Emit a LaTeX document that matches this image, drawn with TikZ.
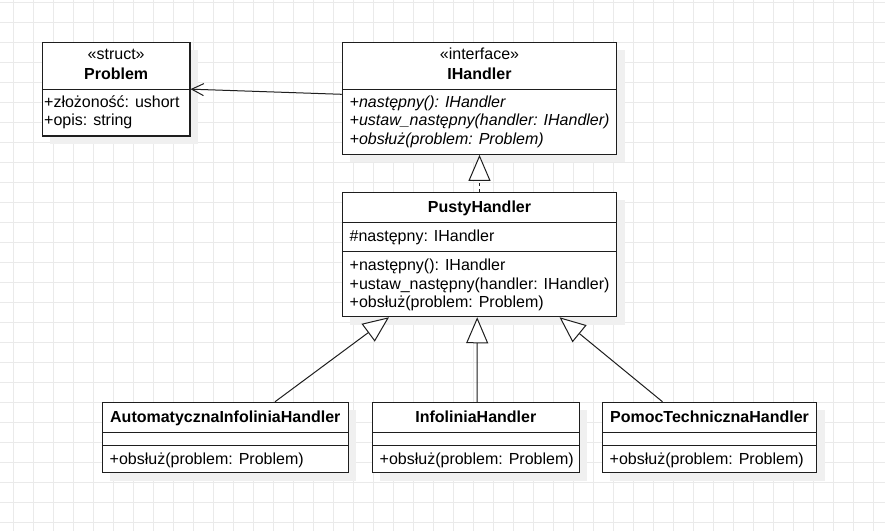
\documentclass[tikz,border=0pt]{standalone}
\usepackage{fontspec}
\setmainfont{Liberation Sans}
\usetikzlibrary{arrows.meta,calc,shadows}
\definecolor{gridc}{RGB}{234,234,234}
\definecolor{shadowc}{RGB}{240,240,240}
\definecolor{linec}{RGB}{30,30,30}
\begin{document}
\begin{tikzpicture}[x=1pt,y=-1pt,
  font=\fontsize{16}{18.5}\selectfont,
  gridline/.style={draw=gridc, line width=1pt},
  umlbox/.style={draw=linec, line width=1.1pt, fill=white, inner sep=0pt,
    drop shadow={shadow xshift=8pt, shadow yshift=-8pt, fill=shadowc, opacity=1}},
  sepline/.style={draw=linec, line width=1.1pt},
  mem/.style={anchor=base west, inner sep=0pt, text=black},
  memi/.style={mem, font=\fontsize{16}{18.5}\selectfont\itshape},
  ttl/.style={anchor=base, inner sep=0pt, text=black},
  ttlb/.style={ttl, font=\fontsize{16}{18.5}\selectfont\bfseries},
  assoc/.style={draw=linec, line width=1pt, -{Straight Barb[length=12pt,width=12pt,line width=1pt]}},
  realize/.style={draw=linec, line width=1pt, dash pattern=on 3pt off 3pt,
    -{Triangle[open, length=26pt, width=22pt, fill=white, line width=1pt]}},
  general/.style={draw=linec, line width=1pt,
    -{Triangle[open, length=26pt, width=22pt, fill=white, line width=1pt]}}
]
% background and grid
\fill[white] (0,0) rectangle (885,531);
\useasboundingbox (0,0) rectangle (885,531);
\foreach \x in {13,33,...,873} \draw[gridline] (\x,0) -- (\x,531);
\foreach \y in {2,22,...,522} \draw[gridline] (0,\y) -- (885,\y);

% boxes
\node[umlbox, minimum width=147.7pt, minimum height=93.7pt] (problem) at (116.15,89.15) {};
\node[umlbox, minimum width=274.4pt, minimum height=112pt] (ihandler) at (479.5,98.3) {};
\node[umlbox, minimum width=274.4pt, minimum height=124.4pt] (pusty) at (479.5,254.5) {};
\node[umlbox, minimum width=246pt, minimum height=70.4pt] (auto) at (225.3,437.5) {};
\node[umlbox, minimum width=207pt, minimum height=70.4pt] (infolinia) at (475.8,437.5) {};
\node[umlbox, minimum width=214.4pt, minimum height=70.4pt] (pomoc) at (709.5,437.5) {};

% separators
\draw[sepline] ($(problem.north west)+(0,48)$) -- ($(problem.north east)+(0,48)$);
\draw[sepline] ($(ihandler.north west)+(0,48)$) -- ($(ihandler.north east)+(0,48)$);
\draw[sepline] ($(pusty.north west)+(0,31)$) -- ($(pusty.north east)+(0,31)$);
\draw[sepline] ($(pusty.north west)+(0,59.4)$) -- ($(pusty.north east)+(0,59.4)$);
\draw[sepline] ($(auto.north west)+(0,31)$) -- ($(auto.north east)+(0,31)$);
\draw[sepline] ($(auto.north west)+(0,43.7)$) -- ($(auto.north east)+(0,43.7)$);
\draw[sepline] ($(infolinia.north west)+(0,31)$) -- ($(infolinia.north east)+(0,31)$);
\draw[sepline] ($(infolinia.north west)+(0,43.7)$) -- ($(infolinia.north east)+(0,43.7)$);
\draw[sepline] ($(pomoc.north west)+(0,31)$) -- ($(pomoc.north east)+(0,31)$);
\draw[sepline] ($(pomoc.north west)+(0,43.7)$) -- ($(pomoc.north east)+(0,43.7)$);

% Problem texts
\node[ttl] (pst) at (116.15,59.3) {«struct»};
\node[ttlb] (pname) at (116.15,79) {Problem};
\node[mem] (pm1) at (44,107.3) {+złożoność: ushort};
\node[mem] (pm2) at (44,125.3) {+opis: string};

% IHandler texts
\node[ttl] (ist) at (479.5,59.3) {«interface»};
\node[ttlb] (iname) at (479.5,79) {IHandler};
\node[memi] (im1) at (349.5,107.3) {+następny(): IHandler};
\node[memi] (im2) at (349.5,125.8) {+ustaw\_następny(handler: IHandler)};
\node[memi] (im3) at (349.5,144.3) {+obsłuż(problem: Problem)};

% PustyHandler texts
\node[ttlb] (uname) at (479.5,212.7) {PustyHandler};
\node[mem] (ua1) at (349.5,241.7) {\#następny: IHandler};
\node[mem] (um1) at (349.5,270.7) {+następny(): IHandler};
\node[mem] (um2) at (349.5,289.2) {+ustaw\_następny(handler: IHandler)};
\node[mem] (um3) at (349.5,307.7) {+obsłuż(problem: Problem)};

% bottom classes
\node[ttlb] (aname) at (225.3,422.7) {AutomatycznaInfoliniaHandler};
\node[mem] (am1) at (109.5,464) {+obsłuż(problem: Problem)};
\node[ttlb] (fname) at (475.8,422.7) {InfoliniaHandler};
\node[mem] (fm1) at (379.5,464) {+obsłuż(problem: Problem)};
\node[ttlb] (tname) at (709.5,422.7) {PomocTechnicznaHandler};
\node[mem] (tm1) at (609.5,464) {+obsłuż(problem: Problem)};

% connectors
\draw[assoc] ($(ihandler.west)+(0,-4)$) -- (problem.east);
\draw[realize] (pusty.north) -- (ihandler.south);
\draw[general] ($(auto.north)+(49.7,0)$) -- ($(pusty.south)+(-90.5,0)$);
\draw[general] ($(infolinia.north)+(1.2,0)$) -- ($(pusty.south)+(-2.3,0)$);
\draw[general] ($(pomoc.north)+(-47,0)$) -- ($(pusty.south)+(80,0)$);
\end{tikzpicture}
\end{document}
